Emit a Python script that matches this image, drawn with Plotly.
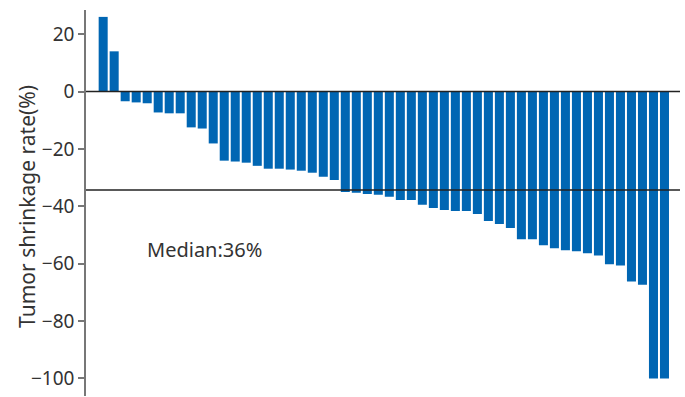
import plotly.graph_objects as go

patients = list(range(1, 53))
shrinkage = [26.0, 14.0, -3.4, -3.8, -4.1, -7.3, -7.6, -7.6, -12.5, -12.9,
             -18.1, -24.1, -24.4, -24.8, -25.9, -26.9, -26.9, -27.2, -27.6, -28.3,
             -29.7, -30.8, -35.0, -35.3, -35.7, -36.0, -36.7, -37.8, -37.8, -39.5,
             -40.6, -41.3, -41.6, -41.6, -42.7, -45.1, -46.2, -47.6, -51.5, -51.5,
             -53.6, -54.6, -55.3, -55.7, -56.4, -57.1, -60.2, -60.6, -66.2, -67.3,
             -100.0, -100.0]
median_line = -34.3
median_label = "Median:36%"
y_title = "Tumor shrinkage rate(%)"
y_ticks = [20, 0, -20, -40, -60, -80, -100]

fig = go.Figure()
fig.add_trace(go.Bar(x=patients, y=shrinkage, marker=dict(color="#0066B3", line=dict(width=0)),
                     width=0.82, showlegend=False))

fig.add_shape(type="line", xref="paper", yref="y", x0=0, x1=1, y0=0, y1=0,
              line=dict(color="#222222", width=1.5), layer="above")
fig.add_shape(type="line", xref="paper", yref="y", x0=0, x1=1, y0=median_line, y1=median_line,
              line=dict(color="#222222", width=1.5), layer="above")

fig.add_annotation(x=10.2, y=-54.9, xref="x", yref="y", text=median_label, showarrow=False,
                   font=dict(family="Noto Sans", size=20, color="#333333"))

fig.add_annotation(x=-0.0993, y=0.49, xref="paper", yref="paper", text=y_title, showarrow=False,
                   textangle=-90, xanchor="center", yanchor="middle",
                   font=dict(family="Noto Sans", size=21, color="#333333"))

fig.update_layout(
    width=685, height=397,
    margin=dict(l=86, r=5, t=10, b=1),
    plot_bgcolor="white", paper_bgcolor="white",
    font=dict(family="Noto Sans", color="#333333"),
    xaxis=dict(range=[-0.56, 53.41], visible=False, showgrid=False, zeroline=False),
    yaxis=dict(range=[-106.1, 28.4], tickvals=y_ticks, showgrid=False, zeroline=False,
               showline=True, linecolor="#777777", linewidth=1.5,
               ticks="outside", ticklen=6, tickcolor="#777777", tickwidth=1.5,
               tickfont=dict(size=19, color="#333333")),
)

fig.write_html("out.html")
